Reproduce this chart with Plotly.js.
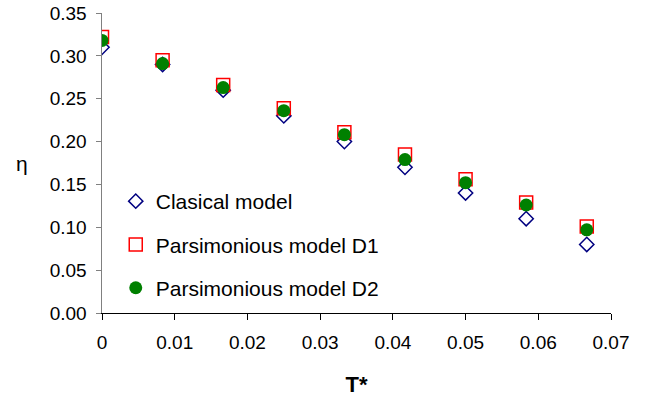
<!DOCTYPE html>
<html>
<head>
<meta charset="utf-8">
<script src="https://cdn.plot.ly/plotly-3.0.1.min.js"></script>
<style>html,body{margin:0;padding:0;background:#fff;}#chart{width:649px;height:397px;}</style>
</head>
<body>
<div id="chart"></div>
<script>
const tStar = [0, 1/120, 2/120, 3/120, 4/120, 5/120, 6/120, 7/120, 8/120];
const clasical = [0.31, 0.29, 0.26, 0.23, 0.20, 0.17, 0.14, 0.11, 0.08];
const parsD1 = [0.322, 0.295, 0.266, 0.239, 0.211, 0.185, 0.156, 0.129, 0.101];
const parsD2 = [0.318, 0.291, 0.263, 0.236, 0.208, 0.179, 0.152, 0.126, 0.097];
const seriesNames = ['Clasical model', 'Parsimonious model D1', 'Parsimonious model D2'];

const font = 'Arial, "Liberation Sans", sans-serif';

const traces = [
  {x: tStar, y: clasical, name: seriesNames[0], mode: 'markers', type: 'scatter', legendgroup: 'a',
   marker: {symbol: 'diamond-open', size: 11, color: '#000080', line: {width: 1.5, color: '#000080'}}},
  {x: tStar, y: parsD1, name: seriesNames[1], mode: 'markers', type: 'scatter', legendgroup: 'b',
   marker: {symbol: 'square-open', size: 13, color: '#ff0000', line: {width: 1.5, color: '#ff0000'}}},
  {x: tStar, y: parsD2, name: seriesNames[2], mode: 'markers', type: 'scatter', legendgroup: 'c',
   marker: {symbol: 'circle', size: 13, color: '#008000', line: {width: 0}}}
];

const layout = {
  width: 649, height: 397,
  margin: {l: 102, r: 38, t: 13, b: 84},
  paper_bgcolor: '#fff', plot_bgcolor: '#fff',
  font: {family: font, size: 19, color: '#000'},
  showlegend: true,
  legend: {x: 0.027, y: 0.44, xanchor: 'left', yanchor: 'top', bgcolor: 'rgba(0,0,0,0)', itemwidth: 30,
           font: {family: font, size: 21, color: '#000'}, tracegroupgap: 13, traceorder: 'grouped'},
  xaxis: {range: [0, 0.07], dtick: 0.01, tick0: 0, showgrid: false, zeroline: false,
          showline: true, linecolor: '#000', linewidth: 1, ticks: 'outside', ticklen: 6, tickcolor: '#000',
          tickfont: {family: font, size: 19}, ticklabelstandoff: 6, fixedrange: true,
          title: {text: '<b>T*</b>', font: {family: font, size: 22}, standoff: 24}},
  yaxis: {range: [0, 0.35], dtick: 0.05, tick0: 0, tickformat: '.2f', showgrid: false, zeroline: false,
          showline: true, linecolor: '#808080', linewidth: 1.5, ticks: 'outside', ticklen: 5, tickcolor: '#808080',
          tickfont: {family: font, size: 19}, ticklabelstandoff: 5, fixedrange: true},
  annotations: [
    {text: 'η', xref: 'paper', yref: 'paper', x: -0.157, y: 0.5, xanchor: 'center', yanchor: 'middle',
     showarrow: false, font: {family: font, size: 21}}
  ]
};

Plotly.newPlot('chart', traces, layout, {displayModeBar: false, staticPlot: true});
</script>
</body>
</html>
